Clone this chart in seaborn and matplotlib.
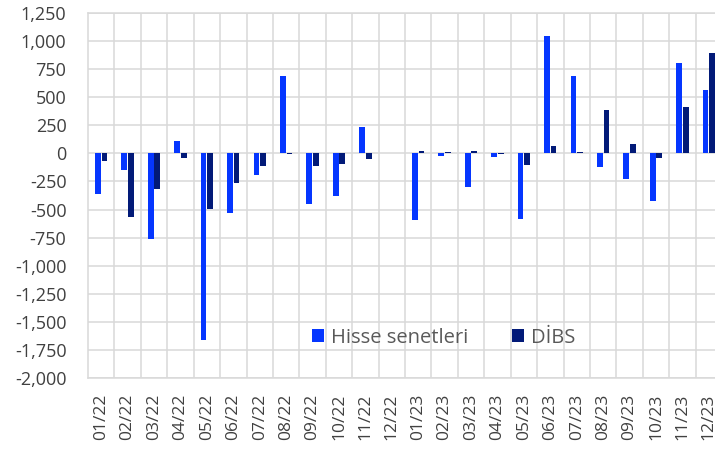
import pandas as pd
import numpy as np
import matplotlib
matplotlib.use("Agg")
import matplotlib.pyplot as plt
import matplotlib.ticker as mticker
import seaborn as sns

# monthly net flows
months = ['01/22', '02/22', '03/22', '04/22', '05/22', '06/22', '07/22', '08/22',
          '09/22', '10/22', '11/22', '12/22', '01/23', '02/23', '03/23', '04/23',
          '05/23', '06/23', '07/23', '08/23', '09/23', '10/23', '11/23', '12/23']
hisse = [-365, -152, -766, 114, -1662, -535, -194, 690,
         -451, -376, 235, 0, -595, -25, -300, -33,
         -583, 1042, 690, -122, -226, -426, 803, 562]
dibs = [-64, -568, -314, -42, -493, -263, -116, -5,
        -108, -96, -51, 0, 24, 12, 24, -5,
        -104, 65, 12, 384, 83, -39, 411, 893]
series_names = ['Hisse senetleri', 'DİBS']
colors = ['#0536FF', '#021A78']

df = pd.DataFrame({
    'month': months * 2,
    'value': hisse + dibs,
    'series': [series_names[0]] * len(months) + [series_names[1]] * len(months),
})

sns.set_style("white")
plt.rcParams['font.family'] = ['Open Sans', 'DejaVu Sans']

fig = plt.figure(figsize=(7.15, 4.51), dpi=100)
ax = fig.add_axes([88 / 715, 1 - 378 / 451, 634 / 715, 365 / 451])

sns.barplot(data=df, x='month', y='value', hue='series', order=months,
            hue_order=series_names, palette=colors, saturation=1,
            width=0.5, gap=0.12, edgecolor='none', ax=ax)

ax.set_ylim(-2000, 1250)
ax.set_xlim(-0.5, len(months) - 0.5)
ax.yaxis.set_major_locator(mticker.MultipleLocator(250))
ax.yaxis.set_major_formatter(mticker.FuncFormatter(lambda v, p: f"{v:,.0f}"))
ax.set_xticks(np.arange(len(months)) + 0.5, minor=True)

ax.grid(axis='y', which='major', color='#d9d9d9', linewidth=1.1)
ax.grid(axis='x', which='minor', color='#d9d9d9', linewidth=1.1)
ax.set_axisbelow(True)
for s in ax.spines.values():
    s.set_color('#d9d9d9')
    s.set_linewidth(1.1)

ax.tick_params(axis='y', length=0, pad=15.5, labelsize=13, labelcolor='#404040')
ax.tick_params(axis='x', which='both', length=0, pad=11, labelsize=12.5,
               labelcolor='#404040', labelrotation=90)
ax.set_xlabel('')
ax.set_ylabel('')

ax.legend(loc='center', bbox_to_anchor=(0.561, 0.11), ncol=2, frameon=False,
          fontsize=14.5, labelcolor='#595959', handlelength=0.6, handleheight=0.6,
          handletextpad=0.35, columnspacing=2.2)

fig.savefig('out.png', dpi=100)
